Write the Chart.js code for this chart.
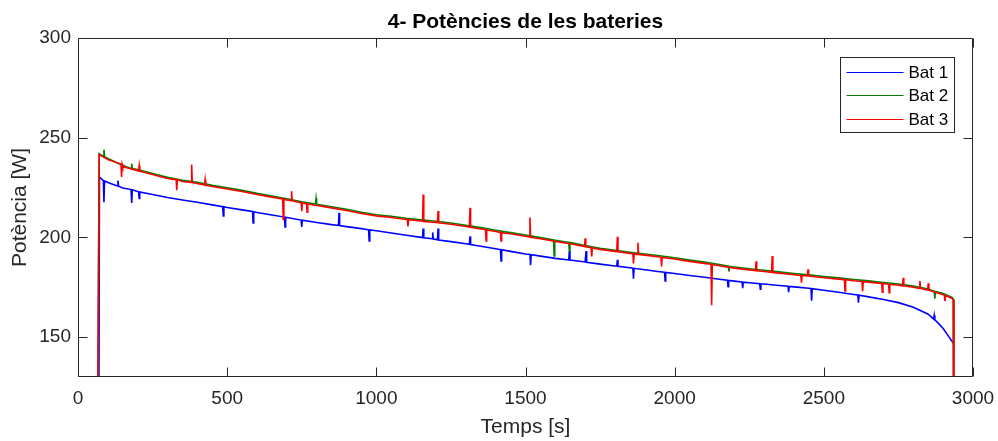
<!DOCTYPE html>
<html>
<head>
<meta charset="utf-8">
<script src="https://cdn.jsdelivr.net/npm/chart.js@4.4.1/dist/chart.umd.min.js"></script>
<style>
  html, body { margin: 0; padding: 0; background: #fff; }
  canvas { display: block; }
</style>
</head>
<body>
<canvas id="power-chart" width="998" height="441"></canvas>
<script>
// Labels and ticks
const chartTitle = '4- Potències de les bateries';
const seriesLabels = ['Bat 1', 'Bat 2', 'Bat 3'];
const seriesColors = ['#0000ff', '#008000', '#ff0000'];
const xTicks = [0, 500, 1000, 1500, 2000, 2500, 3000];
const yTicks = [150, 200, 250, 300];

// Bat 1: [time s, power W]
const bat1 = [
  [68, 0], [72, 230.3], [85, 228.5], [87, 217.7], [89, 228.3], [100, 227.5],
  [132, 225.8], [134, 228.5], [136, 225.7], [150, 224.8], [178, 224], [180, 217.3], [182, 223.9],
  [200, 223], [203, 222.9], [205, 219.5], [207, 222.8], [250, 221.5], [300, 220], [350, 218.8],
  [400, 217.6], [450, 216.3], [485, 215.4], [487, 210.7], [489, 215.4], [500, 215], [550, 213.8],
  [585, 213], [587, 207.3], [589, 212.9], [600, 212.5], [650, 211.2], [692, 210.2], [694, 205.3],
  [696, 210.1], [700, 210], [748, 208.7], [750, 205.3], [752, 208.6], [800, 207.5], [850, 206.4],
  [873, 206], [875, 212.3], [877, 205.9], [900, 205.4], [950, 204.4], [974, 203.8], [976, 198.2],
  [978, 203.8], [1000, 203.3], [1050, 202.2], [1100, 201.1], [1150, 200], [1155, 199.9],
  [1157, 204.5], [1159, 199.8], [1187, 199.3], [1189, 202.5], [1191, 199.2], [1200, 199],
  [1205, 198.8], [1207, 204.5], [1209, 198.7], [1250, 197.9], [1300, 196.8], [1312, 196.5],
  [1314, 200.5], [1316, 196.4], [1350, 195.6], [1400, 194.3], [1416, 193.9], [1418, 188.2],
  [1420, 193.8], [1450, 193], [1500, 191.7], [1515, 191.4], [1517, 186], [1519, 191.3],
  [1550, 190.6], [1600, 189.5], [1645, 188.7], [1647, 193.2], [1649, 188.6], [1700, 187.7],
  [1703, 193.2], [1705, 187.5], [1750, 186.6], [1800, 185.7], [1806, 185.6], [1808, 188.7],
  [1810, 185.5], [1850, 184.8], [1860, 184.6], [1862, 179.3], [1864, 184.5], [1900, 183.8],
  [1950, 182.8], [1966, 182.5], [1968, 178.2], [1970, 182.4], [2000, 181.9], [2050, 180.9],
  [2100, 180], [2150, 179], [2177, 178.5], [2179, 175.3], [2181, 178.4], [2200, 178.1],
  [2226, 177.7], [2228, 174.5], [2230, 177.6], [2250, 177.3], [2285, 176.8], [2287, 174],
  [2289, 176.7], [2300, 176.6], [2350, 175.9], [2380, 175.5], [2382, 172.5], [2384, 175.4],
  [2400, 175.2], [2450, 174.5], [2457, 174.4], [2459, 168.2], [2461, 174.3], [2500, 173.5],
  [2550, 172.5], [2600, 171.4], [2614, 171.1], [2616, 167.3], [2618, 171], [2650, 170.2],
  [2700, 168.9], [2750, 167.3], [2800, 165], [2850, 161.5], [2868, 159], [2870, 161],
  [2872, 158.7], [2880, 157.5], [2900, 154.3], [2920, 150], [2937, 146.3]
];

// Bat 2
const bat2 = [
  [62, 0], [71, 242], [85, 240.6], [87, 244], [89, 240.5], [100, 239.6], [150, 236.1],
  [178, 234.6], [180, 237], [182, 234.5], [200, 234.1], [250, 232.1], [300, 230.1], [350, 228.6],
  [400, 227.6], [450, 226.1], [500, 224.9], [550, 223.6], [600, 222.1], [650, 220.8], [700, 219.4],
  [750, 217.9], [796, 216.7], [798, 219.5], [800, 216.6], [850, 215.4], [900, 214.1], [950, 212.6],
  [1000, 211.4], [1050, 210.6], [1100, 209.6], [1150, 208.8], [1200, 208.1], [1250, 207.2],
  [1300, 206.1], [1350, 204.9], [1400, 203.6], [1450, 202.4], [1500, 201.2], [1550, 199.9],
  [1594, 198.7], [1596, 190.7], [1598, 198.6], [1645, 197.5], [1647, 193.2], [1649, 197.4],
  [1700, 195.9], [1750, 194.6], [1800, 193.6], [1850, 192.6], [1900, 191.7], [1950, 190.8],
  [2000, 189.8], [2050, 188.6], [2100, 187.6], [2150, 186.4], [2180, 185.6], [2182, 183],
  [2184, 185.5], [2200, 185.2], [2250, 184.3], [2300, 183.5], [2350, 182.7], [2400, 181.9],
  [2450, 181.2], [2500, 180.4], [2550, 179.7], [2600, 178.9], [2650, 178.2], [2700, 177.4],
  [2750, 176.6], [2800, 175.6], [2850, 174.1], [2870, 173], [2872, 169.3], [2874, 172.9],
  [2900, 171.9], [2930, 169.9], [2934, 169], [2936, 0]
];

// Bat 3
const bat3 = [
  [62, 0], [71, 241.5], [100, 239], [144, 236.8], [146, 230.3], [148, 236.6], [150, 235.5],
  [200, 233.5], [203, 233.3], [205, 236], [207, 233.2], [250, 231.5], [300, 229.5], [329, 229],
  [331, 223.7], [333, 229], [350, 228], [379, 227.6], [381, 236.5], [383, 227.5], [400, 227],
  [424, 226.3], [426, 229], [428, 226.2], [450, 225.5], [500, 224.3], [550, 223], [600, 221.5],
  [650, 220.2], [686, 219.3], [688, 209], [690, 219.2], [700, 218.8], [714, 218.4], [716, 223.2],
  [718, 218.3], [748, 217.4], [750, 213.2], [752, 217.3], [766, 216.9], [768, 212.7], [770, 216.8],
  [800, 216], [850, 214.8], [900, 213.5], [950, 212], [1000, 210.8], [1050, 210], [1100, 209],
  [1104, 209], [1106, 205.5], [1108, 208.9], [1150, 208.2], [1155, 208.1], [1157, 221.5],
  [1159, 208], [1200, 207.5], [1205, 207.4], [1207, 213.2], [1209, 207.3], [1250, 206.6],
  [1300, 205.5], [1312, 205.2], [1314, 214.8], [1316, 205.1], [1350, 204.3], [1366, 203.8],
  [1368, 198.2], [1370, 203.7], [1400, 203], [1416, 202.5], [1418, 198.2], [1420, 202.4],
  [1450, 201.8], [1500, 200.6], [1513, 200.2], [1515, 210], [1517, 200.1], [1550, 199.3],
  [1600, 198], [1650, 196.8], [1698, 195.4], [1700, 199.5], [1702, 195.3], [1720, 194.8],
  [1722, 190.5], [1724, 194.7], [1750, 194], [1800, 193], [1806, 192.9], [1808, 200.3],
  [1810, 192.8], [1850, 192], [1860, 191.8], [1862, 187], [1864, 191.7], [1875, 191.5],
  [1877, 197.3], [1879, 191.4], [1900, 191.1], [1950, 190.2], [1954, 190.1], [1956, 185.5],
  [1958, 190], [2000, 189.2], [2050, 188], [2100, 187], [2122, 186.5], [2124, 166], [2126, 186.4],
  [2150, 185.8], [2200, 184.6], [2250, 183.7], [2271, 183.4], [2273, 188], [2275, 183.3],
  [2300, 182.9], [2325, 182.5], [2327, 190.7], [2329, 182.4], [2350, 182.1], [2400, 181.3],
  [2423, 180.9], [2425, 177.3], [2427, 180.9], [2445, 180.7], [2447, 184], [2449, 180.6],
  [2500, 179.8], [2550, 179.1], [2569, 178.8], [2571, 173.2], [2573, 178.8], [2600, 178.3],
  [2628, 177.9], [2630, 173], [2632, 177.8], [2650, 177.6], [2694, 176.9], [2696, 172.5],
  [2698, 176.9], [2717, 176.5], [2719, 172.3], [2721, 176.5], [2750, 176], [2764, 175.7],
  [2766, 179.8], [2768, 175.7], [2800, 175], [2820, 174.4], [2822, 178.2], [2824, 174.4],
  [2848, 173.6], [2850, 177], [2852, 173.5], [2900, 171.3], [2904, 171], [2906, 168],
  [2908, 170.8], [2930, 169.3], [2934, 168.5], [2936, 0]
];

const FONT = "'Liberation Sans', Arial, Helvetica, sans-serif";
const AXIS_COLOR = '#262626';

// MATLAB style box with inward ticks on all four sides
const axesBox = {
    id: 'axesBox',
    afterDatasetsDraw(chart) {
        const { ctx, chartArea: a, scales } = chart;
        const L = Math.round(a.left) + 0.5, R = Math.round(a.right) - 0.5;
        const T = Math.round(a.top) + 0.5, B = Math.round(a.bottom) - 0.5;
        const len = 9;
        ctx.save();
        ctx.strokeStyle = AXIS_COLOR;
        ctx.lineWidth = 1;
        ctx.beginPath();
        ctx.rect(L, T, R - L, B - T);
        xTicks.forEach(v => {
            const x = Math.round(scales.x.getPixelForValue(v)) + 0.5;
            ctx.moveTo(x, B); ctx.lineTo(x, B - len);
            ctx.moveTo(x, T); ctx.lineTo(x, T + len);
        });
        yTicks.forEach(v => {
            const y = Math.round(scales.y.getPixelForValue(v)) + 0.5;
            ctx.moveTo(L, y); ctx.lineTo(L + len, y);
            ctx.moveTo(R, y); ctx.lineTo(R - len, y);
        });
        ctx.stroke();
        ctx.restore();
    }
};

// Title centred over the axes, plus the legend box in the top right corner
const titleAndLegend = {
    id: 'titleAndLegend',
    afterDraw(chart) {
        const { ctx, chartArea: a } = chart;
        ctx.save();
        ctx.fillStyle = '#000';
        ctx.font = 'bold 21px ' + FONT;
        ctx.textAlign = 'center';
        ctx.textBaseline = 'alphabetic';
        ctx.fillText(chartTitle, (a.left + a.right) / 2, 28);

        const w = 114, h = 75;
        const x0 = Math.round(a.right - 19 - w) + 0.5;
        const y0 = Math.round(a.top + 19) + 0.5;
        ctx.fillStyle = '#fff';
        ctx.fillRect(x0, y0, w, h);
        ctx.strokeStyle = AXIS_COLOR;
        ctx.lineWidth = 1;
        ctx.strokeRect(x0, y0, w, h);
        ctx.font = '17px ' + FONT;
        ctx.textBaseline = 'middle';
        ctx.textAlign = 'left';
        chart.data.datasets.forEach((ds, i) => {
            const y = Math.round(y0 + 14 + i * 23.7) + 0.5;
            ctx.strokeStyle = ds.borderColor;
            ctx.beginPath();
            ctx.moveTo(x0 + 6, y);
            ctx.lineTo(x0 + 63, y);
            ctx.stroke();
            ctx.fillStyle = '#000';
            ctx.fillText(ds.label, x0 + 68, y + 1);
        });
        ctx.restore();
    }
};

function makeDataset(points, i, order) {
    return {
        label: seriesLabels[i],
        data: points.map(([t, p]) => ({ x: t, y: p })),
        borderColor: seriesColors[i],
        backgroundColor: seriesColors[i],
        borderWidth: 1.6,
        pointRadius: 0,
        tension: 0,
        fill: false,
        order: order
    };
}

function createChart() {
    const ctx = document.getElementById('power-chart').getContext('2d');
    new Chart(ctx, {
        type: 'line',
        data: {
            datasets: [
                makeDataset(bat1, 0, 3),
                makeDataset(bat2, 1, 2),
                makeDataset(bat3, 2, 1)
            ]
        },
        options: {
            responsive: false,
            animation: false,
            devicePixelRatio: 1,
            layout: { padding: { top: 38, right: 25, bottom: 0, left: 0 } },
            plugins: {
                legend: { display: false },
                tooltip: { enabled: false },
                title: { display: false }
            },
            scales: {
                x: {
                    type: 'linear',
                    min: 0,
                    max: 3000,
                    afterBuildTicks: s => { s.ticks = xTicks.map(v => ({ value: v })); },
                    afterFit: s => { s.height = 64; s.paddingLeft = 0; s.paddingRight = 0; },
                    grid: { display: false, drawTicks: false },
                    border: { display: false },
                    ticks: {
                        color: AXIS_COLOR,
                        font: { family: FONT, size: 19 },
                        padding: 10,
                        maxRotation: 0,
                        callback: v => String(v)
                    },
                    title: {
                        display: true,
                        text: 'Temps [s]',
                        color: AXIS_COLOR,
                        font: { family: FONT, size: 21 },
                        padding: { top: 0, bottom: 1 }
                    }
                },
                y: {
                    type: 'linear',
                    min: 130,
                    max: 300,
                    afterBuildTicks: s => { s.ticks = yTicks.map(v => ({ value: v })); },
                    afterFit: s => { s.width = 78; s.paddingTop = 0; s.paddingBottom = 0; },
                    grid: { display: false, drawTicks: false },
                    border: { display: false },
                    ticks: {
                        color: AXIS_COLOR,
                        font: { family: FONT, size: 19 },
                        padding: 7,
                        callback: v => String(v)
                    },
                    title: {
                        display: true,
                        text: 'Potència [W]',
                        color: AXIS_COLOR,
                        font: { family: FONT, size: 21 },
                        padding: { top: 7.5, bottom: 0 }
                    }
                }
            }
        },
        plugins: [axesBox, titleAndLegend]
    });
}

document.addEventListener('DOMContentLoaded', createChart);
</script>
</body>
</html>
